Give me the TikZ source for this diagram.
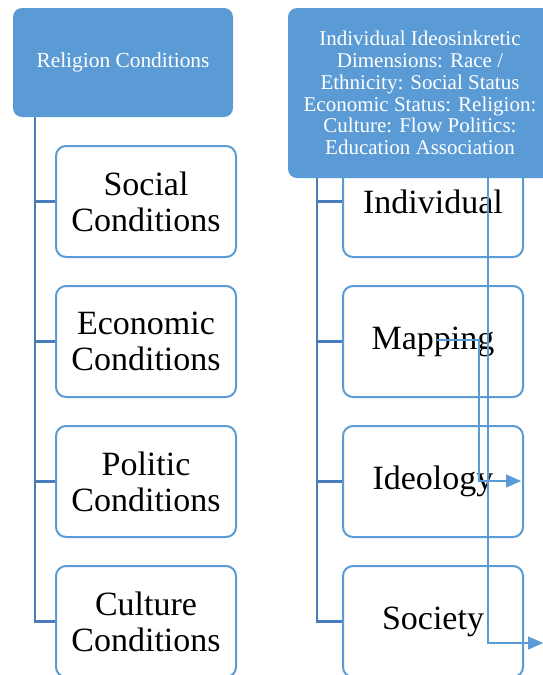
\documentclass[tikz,border=0pt]{standalone}
\usepackage{fontspec}
\setmainfont{Liberation Serif}
\usetikzlibrary{arrows.meta}

\definecolor{hdblue}{HTML}{5B9BD5}
\definecolor{trunkblue}{HTML}{4A7EBB}

\tikzset{
	header/.style={rectangle, rounded corners=9pt, fill=hdblue, text=white, align=center, inner sep=0pt},
	cbox/.style={rectangle, rounded corners=10pt, draw=hdblue, line width=2pt, fill=white, text=black, align=center, inner sep=0pt, minimum width=180pt, minimum height=111pt, font=\fontsize{34}{36}\selectfont},
	trunk/.style={draw=trunkblue, line width=2.2pt},
	flow/.style={draw=hdblue, line width=1.2pt, -{Triangle[length=15pt,width=13pt]}}
}

\begin{document}
\begin{tikzpicture}[x=1pt,y=-1pt]

	\useasboundingbox (0,0) rectangle (543,675);

	\node 	(relig)		at	(123,62.5) 	[header, minimum width=220pt, minimum height=109pt, font=\fontsize{21.4}{24}\selectfont]{Religion Conditions};

	\node 	(soc)		at	(146,201.5) 	[cbox]{Social\\Conditions};
	\node 	(eco)		at	(146,341.5) 	[cbox]{Economic\\Conditions};
	\node 	(pol)		at	(146,481.5) 	[cbox]{Politic\\Conditions};
	\node 	(cult)		at	(146,621.5) 	[cbox]{Culture\\Conditions};

	\node 	(indiv)		at	(433,201.5) 	[cbox]{Individual};
	\node 	(mapp)		at	(433,341.5) 	[cbox]{Mapping};
	\node 	(ideol)		at	(433,481.5) 	[cbox]{Ideology};
	\node 	(socy)		at	(433,621.5) 	[cbox]{Society};

	\node 	(dimen)		at	(420,93) 	[header, minimum width=264pt, minimum height=170pt, font=\fontsize{21}{21.7}\selectfont]{Individual Ideosinkretic\\Dimensions: Race /\\Ethnicity: Social Status\\Economic Status: Religion:\\Culture: Flow Politics:\\Education Association};

	% trunks
	\draw[trunk]	([xshift=22pt]relig.south west)	|-	(soc.west);
	\draw[trunk]	([xshift=22pt]relig.south west)	|-	(eco.west);
	\draw[trunk]	([xshift=22pt]relig.south west)	|-	(pol.west);
	\draw[trunk]	([xshift=22pt]relig.south west)	|-	(cult.west);

	\draw[trunk]	([xshift=29pt]dimen.south west)	|-	(indiv.west);
	\draw[trunk]	([xshift=29pt]dimen.south west)	|-	(mapp.west);
	\draw[trunk]	([xshift=29pt]dimen.south west)	|-	(ideol.west);
	\draw[trunk]	([xshift=29pt]dimen.south west)	|-	(socy.west);

	% thin arrows
	\coordinate	(mstart)	at	(437,340);
	\coordinate	(mend)		at	(521,481);
	\coordinate	(dend)		at	(543,643);

	\draw[flow]	(mstart)	-|	(479,481)	--	(mend);
	\draw[flow]	(dimen.south -| 488,0)	|-	(dend);

\end{tikzpicture}
\end{document}
